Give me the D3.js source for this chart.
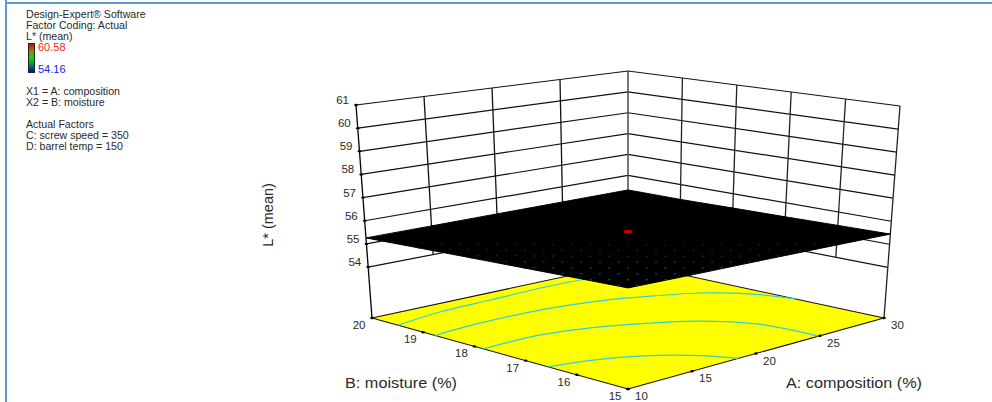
<!DOCTYPE html>
<html><head><meta charset="utf-8">
<script src="https://cdnjs.cloudflare.com/ajax/libs/d3/7.8.5/d3.min.js"></script>
<style>html,body{margin:0;padding:0;background:#fff}svg{display:block}text{font-family:"Liberation Sans",Arial,sans-serif;fill:#2a2a2a}</style>
</head><body><svg id="c" width="992" height="402"></svg>
<script>
// ---- data ----
const legendLines1 = ["Design-Expert® Software","Factor Coding: Actual","L* (mean)"];
const legendLines2 = ["X1 = A: composition","X2 = B: moisture"];
const legendLines3 = ["Actual Factors","C: screw speed = 350","D: barrel temp = 150"];
const legendMax = "60.58", legendMin = "54.16";
const zTicks = [54,55,56,57,58,59,60,61];
const aTicks = [10,15,20,25,30];
const bTicks = [15,16,17,18,19,20];
const aGrid = [10,15,20,25,30];
const bGrid = [15,16,17,18,19,20];
// L* surface, rows follow bGrid, columns follow aGrid
const surfaceZ = [
 [55.52,55.50,55.49,55.47,55.44],
 [55.48,55.47,55.46,55.44,55.41],
 [55.43,55.42,55.41,55.39,55.37],
 [55.38,55.37,55.36,55.35,55.34],
 [55.32,55.32,55.32,55.31,55.30],
 [55.26,55.27,55.28,55.29,55.30]];
const designPoint = [20,17.5,55.63];
const contour1 = [[10,19.49],[13.9,19.65],[18,19.69],[22.1,19.73],[24.3,19.72],[26,19.68]];
const contour2 = [[10,18.77],[13.25,18.84],[18.4,18.82],[22.7,18.6],[24.5,18.4],[27.5,17.97],[29.3,17.38],[30,16.74]];
const contour3 = [[10,17.83],[14.5,17.83],[17.6,17.63],[19.2,17.45],[22.8,16.85],[24.6,16.1],[24.9,15]];
const contour4 = [[10,16.56],[12.8,16.38],[15.4,16.05],[17.6,15.5],[18.6,15]];

// ---- scales and projection ----
const sA = d3.scaleLinear().domain([10,30]).range([0,1]);
const sB = d3.scaleLinear().domain([15,20]).range([0,1]);
const sZ = d3.scaleLinear().domain([51.8,61]).range([0,1]);
const floorQ = {F:[628,389],R:[884,318],L:[372,318],K:[628,263]};
const topQ   = {F:[628,139],R:[900,106],L:[356,105],K:[628,71]};
function quad(Q,p,q){
  return [0,1].map(i=>(1-p)*(1-q)*Q.F[i]+p*(1-q)*Q.R[i]+(1-p)*q*Q.L[i]+p*q*Q.K[i]);
}
function P(a,b,z){
  const p=sA(a),q=sB(b),w=sZ(z),f=quad(floorQ,p,q),t=quad(topQ,p,q);
  return [f[0]+(t[0]-f[0])*w,f[1]+(t[1]-f[1])*w];
}
const zFloor=sZ.domain()[0], zTop=sZ.domain()[1];
const svg=d3.select("#c");
const line=d3.line();
const seg=(g,pts,col,w)=>g.append("path").attr("d",line(pts)).attr("fill","none").attr("stroke",col).attr("stroke-width",w);

// page frame
const frame=svg.append("g");
frame.append("rect").attr("x",5).attr("y",0).attr("width",2).attr("height",402).attr("fill","#5b9bd5");
frame.append("rect").attr("x",5).attr("y",2).attr("width",987).attr("height",2).attr("fill","#5b9bd5");

// walls
const walls=svg.append("g");
zTicks.forEach(z=>{
  seg(walls,[P(10,20,z),P(30,20,z),P(30,15,z)],"#111",1.2);
});
aTicks.slice(1,-1).forEach(a=>seg(walls,[P(a,20,54),P(a,20,zTop)],"#111",1.3));
bTicks.slice(1,-1).forEach(b=>seg(walls,[P(30,b,54),P(30,b,zTop)],"#222",1.3));
seg(walls,[P(30,20,54),P(30,20,zTop)],"#555",1.6);
seg(walls,[P(10,20,zFloor),P(10,20,zTop)],"#000",1.3);
seg(walls,[P(30,15,zFloor),P(30,15,zTop)],"#222",1.3);

// floor
const floorG=svg.append("g");
floorG.append("path").attr("d",line([P(10,15,zFloor),P(30,15,zFloor),P(30,20,zFloor),P(10,20,zFloor)])+"Z")
  .attr("fill","#ffff00").attr("stroke","#111").attr("stroke-width",1.1);
[contour1,contour2,contour3,contour4].forEach(c=>{
  floorG.append("path").attr("d",d3.line().curve(d3.curveCatmullRom)(c.map(d=>P(d[0],d[1],zFloor))))
    .attr("fill","none").attr("stroke","#2fd0d8").attr("stroke-width",1.2);
});

// surface
const surf=svg.append("g");
for(let r=0;r<bGrid.length-1;r++)for(let c=0;c<aGrid.length-1;c++){
  surf.append("path").attr("d",line([
    P(aGrid[c],bGrid[r],surfaceZ[r][c]),P(aGrid[c+1],bGrid[r],surfaceZ[r][c+1]),
    P(aGrid[c+1],bGrid[r+1],surfaceZ[r+1][c+1]),P(aGrid[c],bGrid[r+1],surfaceZ[r+1][c])])+"Z")
    .attr("fill","#000").attr("stroke","#000").attr("stroke-width",1).attr("stroke-linejoin","round");
}
// mesh sparkle near the front of the surface
const meshN=28, meshIdx=d3.range(0,meshN+1);
const zMid=d3.mean(surfaceZ.flat());
const mA=d3.scaleLinear().domain([0,meshN]).range(sA.domain()), mB=d3.scaleLinear().domain([0,meshN]).range(sB.domain());
meshIdx.forEach(i=>meshIdx.forEach(j=>{
  if((i+j)%3) return;
  const xy=P(mA(i),mB(j),zMid), dep=(xy[1]-243)/42;
  if(dep<=0||i==0||j==0||i==meshN||j==meshN) return;
  surf.append("rect").attr("x",xy[0]-1).attr("y",xy[1]-.75).attr("width",2).attr("height",1.5)
    .attr("fill","#0c7a7a").attr("opacity",Math.min(.75,.25+dep*.5));
}));
const dp=P(designPoint[0],designPoint[1],designPoint[2]);
surf.append("ellipse").attr("cx",dp[0]).attr("cy",dp[1]).attr("rx",4.5).attr("ry",2).attr("fill","#c00000");

// ticks and tick labels
const lab=svg.append("g").style("font-size","11.5px");
const dot=(xy)=>lab.append("ellipse").attr("cx",xy[0]).attr("cy",xy[1]).attr("rx",1.8).attr("ry",1.2).attr("fill","#000");
zTicks.forEach(z=>{const xy=P(10,20,z);dot(xy);
  lab.append("text").attr("x",xy[0]-7).attr("y",xy[1]-1).attr("text-anchor","end").text(z);});
bTicks.forEach(b=>{const xy=P(10,b,zFloor);dot(xy);
  lab.append("text").attr("x",xy[0]-6.5).attr("y",xy[1]+11).attr("text-anchor","end").text(b);});
aTicks.forEach(a=>{const xy=P(a,15,zFloor);dot(xy);
  lab.append("text").attr("x",xy[0]+7).attr("y",xy[1]+11).text(a);});

// axis titles
svg.append("text").attr("transform","translate(273,215) rotate(-90)").attr("text-anchor","middle").style("font-size","14.5px").text("L* (mean)");
svg.append("text").attr("x",345).attr("y",388).style("font-size","15px").attr("textLength",112).attr("lengthAdjust","spacingAndGlyphs").text("B: moisture (%)");
svg.append("text").attr("x",786).attr("y",388).style("font-size","15px").attr("textLength",136).attr("lengthAdjust","spacingAndGlyphs").text("A: composition (%)");

// legend
const leg=svg.append("g").style("font-size","10.6px");
const put=(arr,y0)=>arr.forEach((t,i)=>leg.append("text").attr("x",26).attr("y",y0+i*11).text(t));
put(legendLines1,18);put(legendLines2,95);put(legendLines3,128);
const defs=svg.append("defs");
const gr=defs.append("linearGradient").attr("id","cb").attr("x1",0).attr("x2",0).attr("y1",0).attr("y2",1);
[[0,"#d00000"],[.25,"#a08000"],[.5,"#00e000"],[.75,"#008060"],[1,"#0000c0"]].forEach(s=>gr.append("stop").attr("offset",s[0]).attr("stop-color",s[1]));
leg.append("rect").attr("x",28.5).attr("y",43.5).attr("width",6).attr("height",29).attr("fill","url(#cb)").attr("stroke","#222");
leg.append("text").attr("x",38).attr("y",51).style("fill","#ff2020").style("font-size","11px").text(legendMax);
leg.append("text").attr("x",38).attr("y",73).style("fill","#2020ff").style("font-size","11px").text(legendMin);
</script></body></html>
